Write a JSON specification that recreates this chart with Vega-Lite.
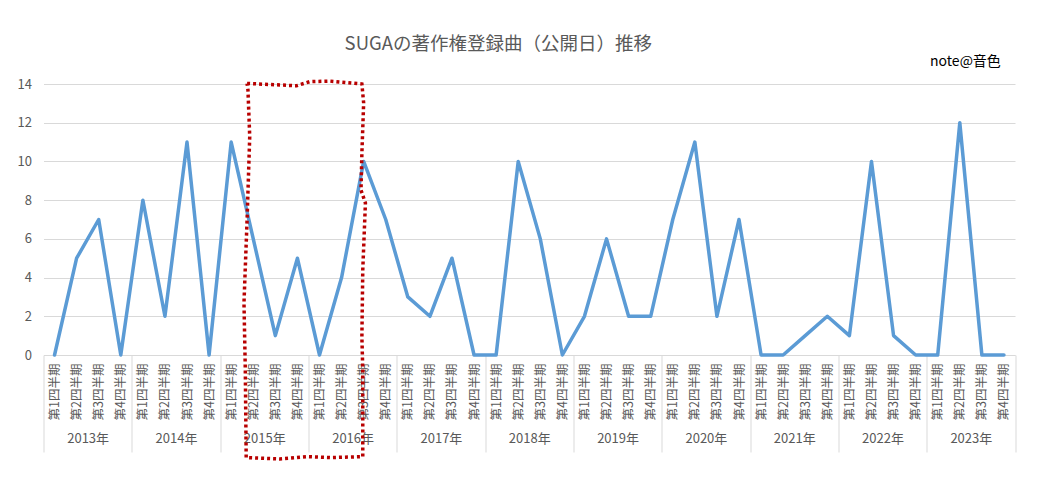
{
  "$schema": "https://vega.github.io/schema/vega-lite/v6.json",
  "autosize": "none",
  "width": 971.5,
  "height": 271,
  "padding": {"left": 43.5, "top": 84, "right": 42, "bottom": 130},
  "background": "white",
  "config": {
    "view": {"stroke": null},
    "font": "Noto Sans CJK JP",
    "axis": {"labelFont": "Noto Sans CJK JP"}
  },
  "title": {
    "text": "SUGAの著作権登録曲（公開日）推移",
    "font": "Noto Sans CJK JP",
    "fontSize": 18.5,
    "fontWeight": "normal",
    "color": "#595959",
    "frame": "group",
    "baseline": "alphabetic",
    "offset": -13,
    "dx": -31
  },
  "datasets": {
    "songs": [
      {"year": 2013, "quarter": 1, "t": 2013.0, "count": 0},
      {"year": 2013, "quarter": 2, "t": 2013.25, "count": 5},
      {"year": 2013, "quarter": 3, "t": 2013.5, "count": 7},
      {"year": 2013, "quarter": 4, "t": 2013.75, "count": 0},
      {"year": 2014, "quarter": 1, "t": 2014.0, "count": 8},
      {"year": 2014, "quarter": 2, "t": 2014.25, "count": 2},
      {"year": 2014, "quarter": 3, "t": 2014.5, "count": 11},
      {"year": 2014, "quarter": 4, "t": 2014.75, "count": 0},
      {"year": 2015, "quarter": 1, "t": 2015.0, "count": 11},
      {"year": 2015, "quarter": 2, "t": 2015.25, "count": 6},
      {"year": 2015, "quarter": 3, "t": 2015.5, "count": 1},
      {"year": 2015, "quarter": 4, "t": 2015.75, "count": 5},
      {"year": 2016, "quarter": 1, "t": 2016.0, "count": 0},
      {"year": 2016, "quarter": 2, "t": 2016.25, "count": 4},
      {"year": 2016, "quarter": 3, "t": 2016.5, "count": 10},
      {"year": 2016, "quarter": 4, "t": 2016.75, "count": 7},
      {"year": 2017, "quarter": 1, "t": 2017.0, "count": 3},
      {"year": 2017, "quarter": 2, "t": 2017.25, "count": 2},
      {"year": 2017, "quarter": 3, "t": 2017.5, "count": 5},
      {"year": 2017, "quarter": 4, "t": 2017.75, "count": 0},
      {"year": 2018, "quarter": 1, "t": 2018.0, "count": 0},
      {"year": 2018, "quarter": 2, "t": 2018.25, "count": 10},
      {"year": 2018, "quarter": 3, "t": 2018.5, "count": 6},
      {"year": 2018, "quarter": 4, "t": 2018.75, "count": 0},
      {"year": 2019, "quarter": 1, "t": 2019.0, "count": 2},
      {"year": 2019, "quarter": 2, "t": 2019.25, "count": 6},
      {"year": 2019, "quarter": 3, "t": 2019.5, "count": 2},
      {"year": 2019, "quarter": 4, "t": 2019.75, "count": 2},
      {"year": 2020, "quarter": 1, "t": 2020.0, "count": 7},
      {"year": 2020, "quarter": 2, "t": 2020.25, "count": 11},
      {"year": 2020, "quarter": 3, "t": 2020.5, "count": 2},
      {"year": 2020, "quarter": 4, "t": 2020.75, "count": 7},
      {"year": 2021, "quarter": 1, "t": 2021.0, "count": 0},
      {"year": 2021, "quarter": 2, "t": 2021.25, "count": 0},
      {"year": 2021, "quarter": 3, "t": 2021.5, "count": 1},
      {"year": 2021, "quarter": 4, "t": 2021.75, "count": 2},
      {"year": 2022, "quarter": 1, "t": 2022.0, "count": 1},
      {"year": 2022, "quarter": 2, "t": 2022.25, "count": 10},
      {"year": 2022, "quarter": 3, "t": 2022.5, "count": 1},
      {"year": 2022, "quarter": 4, "t": 2022.75, "count": 0},
      {"year": 2023, "quarter": 1, "t": 2023.0, "count": 0},
      {"year": 2023, "quarter": 2, "t": 2023.25, "count": 12},
      {"year": 2023, "quarter": 3, "t": 2023.5, "count": 0},
      {"year": 2023, "quarter": 4, "t": 2023.75, "count": 0}
    ],
    "highlight": [
      {"order": 1, "t": 2015.18, "v": 14.03},
      {"order": 2, "t": 2015.55, "v": 13.95},
      {"order": 3, "t": 2015.74, "v": 13.91},
      {"order": 4, "t": 2015.89, "v": 14.12},
      {"order": 5, "t": 2016.12, "v": 14.15},
      {"order": 6, "t": 2016.48, "v": 14.0},
      {"order": 7, "t": 2016.5, "v": 13.02},
      {"order": 8, "t": 2016.48, "v": 10.43},
      {"order": 9, "t": 2016.47, "v": 8.52},
      {"order": 10, "t": 2016.52, "v": 7.85},
      {"order": 11, "t": 2016.49, "v": 4.39},
      {"order": 12, "t": 2016.48, "v": 0.93},
      {"order": 13, "t": 2016.49, "v": -0.77},
      {"order": 14, "t": 2016.49, "v": -5.25},
      {"order": 15, "t": 2016.12, "v": -5.3},
      {"order": 16, "t": 2015.85, "v": -5.25},
      {"order": 17, "t": 2015.55, "v": -5.37},
      {"order": 18, "t": 2015.17, "v": -5.3},
      {"order": 19, "t": 2015.16, "v": -0.77},
      {"order": 20, "t": 2015.145, "v": 2.69},
      {"order": 21, "t": 2015.18, "v": 6.97},
      {"order": 22, "t": 2015.21, "v": 11.28},
      {"order": 23, "t": 2015.19, "v": 13.69},
      {"order": 24, "t": 2015.18, "v": 14.03}
    ],
    "credit": [
      {"label": "note@音色", "t": 2023.314, "v": 15.13}
    ]
  },
  "resolve": {"axis": {"x": "independent", "y": "independent"}},
  "layer": [
    {
      "data": {"name": "songs"},
      "mark": {"type": "line", "interpolate": "linear", "color": "#5b9bd5", "strokeWidth": 3.5, "strokeJoin": "round", "strokeCap": "round"},
      "encoding": {
        "x": {
          "field": "t", "type": "quantitative",
          "scale": {"domain": [2012.875, 2023.875], "nice": false, "zero": false},
          "axis": {
            "orient": "bottom",
            "title": null,
            "values": [2013, 2013.25, 2013.5, 2013.75, 2014, 2014.25, 2014.5, 2014.75, 2015, 2015.25, 2015.5, 2015.75, 2016, 2016.25, 2016.5, 2016.75, 2017, 2017.25, 2017.5, 2017.75, 2018, 2018.25, 2018.5, 2018.75, 2019, 2019.25, 2019.5, 2019.75, 2020, 2020.25, 2020.5, 2020.75, 2021, 2021.25, 2021.5, 2021.75, 2022, 2022.25, 2022.5, 2022.75, 2023, 2023.25, 2023.5, 2023.75],
            "labelExpr": "'第' + (round((datum.value - floor(datum.value)) * 4) + 1) + '四半期'",
            "labelAngle": -90,
            "labelAlign": "right",
            "labelBaseline": "middle",
            "labelPadding": 8,
            "labelFontSize": 12.5,
            "labelColor": "#595959",
            "labelOverlap": false,
            "labelFlush": false,
            "labelBound": false,
            "ticks": false,
            "grid": false,
            "domain": true,
            "domainColor": "#d9d9d9",
            "domainWidth": 1
          }
        },
        "y": {
          "field": "count", "type": "quantitative",
          "scale": {"domain": [0, 14], "nice": false},
          "axis": {
            "title": null,
            "values": [0, 2, 4, 6, 8, 10, 12, 14],
            "grid": true,
            "gridColor": "#d9d9d9",
            "gridWidth": 1,
            "domain": false,
            "ticks": false,
            "labelPadding": 12,
            "labelFontSize": 13,
            "labelColor": "#595959"
          }
        }
      }
    },
    {
      "data": {"name": "highlight"},
      "mark": {"type": "line", "interpolate": "linear", "color": "#b80000", "strokeWidth": 3.5, "strokeDash": [3, 3], "strokeCap": "butt"},
      "encoding": {
        "x": {
          "field": "t", "type": "quantitative",
          "axis": {
            "orient": "bottom",
            "title": null,
            "values": [2012.875, 2013.875, 2014.875, 2015.875, 2016.875, 2017.875, 2018.875, 2019.875, 2020.875, 2021.875, 2022.875, 2023.875],
            "labels": false,
            "ticks": true,
            "tickSize": 97,
            "tickColor": "#d9d9d9",
            "tickWidth": 1,
            "domain": false,
            "grid": false
          }
        },
        "y": {"field": "v", "type": "quantitative", "axis": null},
        "order": {"field": "order", "type": "quantitative"}
      }
    },
    {
      "data": {"name": "credit"},
      "mark": {"type": "text", "font": "Noto Sans CJK JP", "fontSize": 14, "color": "#000000", "align": "center", "baseline": "middle"},
      "encoding": {
        "x": {
          "field": "t", "type": "quantitative",
          "axis": {
            "orient": "bottom",
            "title": null,
            "values": [2013.375, 2014.375, 2015.375, 2016.375, 2017.375, 2018.375, 2019.375, 2020.375, 2021.375, 2022.375, 2023.375],
            "labelExpr": "floor(datum.value) + '年'",
            "labelPadding": 77,
            "labelFontSize": 13,
            "labelColor": "#595959",
            "labelOverlap": false,
            "labelFlush": false,
            "labelBound": false,
            "ticks": false,
            "domain": false,
            "grid": false
          }
        },
        "y": {"field": "v", "type": "quantitative", "axis": null},
        "text": {"field": "label"}
      }
    }
  ]
}
